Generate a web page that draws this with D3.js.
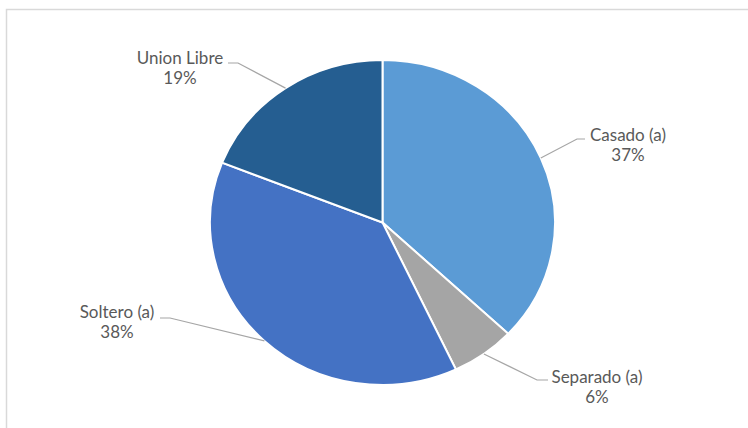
<!DOCTYPE html>
<html>
<head>
<meta charset="utf-8">
<script src="https://cdn.jsdelivr.net/npm/d3@7"></script>
<style>
  html, body { margin: 0; padding: 0; background: #fff; }
  svg { display: block; }
</style>
</head>
<body>
<svg id="chart" width="748" height="428"></svg>
<script>
// ---- data ----
const categories = ["Casado (a)", "Separado (a)", "Soltero (a)", "Union Libre"];
const values = [37, 6, 38, 19];
const percentLabels = ["37%", "6%", "38%", "19%"];
const colors = ["#5B9BD5", "#A5A5A5", "#4472C4", "#255E91"];

// ---- layout (not data) ----
const W = 748, H = 428;
const cx = 382.5, cy = 222.5;
const rx = 172.5, ry = 162.5;
const labelLayout = [
  { elbow: [577, 139], end: [585, 139], tx: 628, ty: 140 },
  { elbow: [537, 380], end: [548, 380], tx: 597, ty: 382 },
  { elbow: [170, 318], end: [160, 318], tx: 117, ty: 317 },
  { elbow: [238, 63],  end: [228, 63],  tx: 180, ty: 63 }
];

const svg = d3.select("#chart");

// chart frame
svg.append("rect")
  .attr("x", 6.5).attr("y", 9.5)
  .attr("width", 800).attr("height", 500)
  .attr("fill", "#fff")
  .attr("stroke", "#d9d9d9")
  .attr("stroke-width", 1.5);

const pie = d3.pie().sort(null).value(d => d.value);
const data = categories.map((c, i) => ({ name: c, value: values[i], pct: percentLabels[i], color: colors[i], i }));
const arcs = pie(data);

const arc = d3.arc().innerRadius(0).outerRadius(ry);

const g = svg.append("g")
  .attr("transform", `translate(${cx},${cy}) scale(${rx / ry},1)`);

g.selectAll("path.slice")
  .data(arcs)
  .enter().append("path")
  .attr("class", "slice")
  .attr("d", arc)
  .attr("fill", d => d.data.color)
  .attr("stroke", "#fff")
  .attr("stroke-width", 2)
  .attr("vector-effect", "non-scaling-stroke");

// leader lines
const edgePoint = d => {
  const a = (d.startAngle + d.endAngle) / 2;
  return [cx + rx * Math.sin(a), cy - ry * Math.cos(a)];
};

svg.selectAll("polyline.leader")
  .data(arcs)
  .enter().append("polyline")
  .attr("class", "leader")
  .attr("points", d => {
    const L = labelLayout[d.data.i];
    const e = edgePoint(d);
    return [e, L.elbow, L.end].map(p => p.join(",")).join(" ");
  })
  .attr("fill", "none")
  .attr("stroke", "#a6a6a6")
  .attr("stroke-width", 1.2);

// labels
const labels = svg.selectAll("text.lbl")
  .data(arcs)
  .enter().append("text")
  .attr("class", "lbl")
  .attr("text-anchor", "middle")
  .attr("font-family", "Lato, 'Open Sans', sans-serif")
  .attr("font-size", 17)
  .attr("fill", "#595959");

labels.append("tspan")
  .attr("x", d => labelLayout[d.data.i].tx)
  .attr("y", d => labelLayout[d.data.i].ty + 1)
  .text(d => d.data.name);
labels.append("tspan")
  .attr("x", d => labelLayout[d.data.i].tx)
  .attr("y", d => labelLayout[d.data.i].ty + 21)
  .text(d => d.data.pct);
</script>
</body>
</html>
